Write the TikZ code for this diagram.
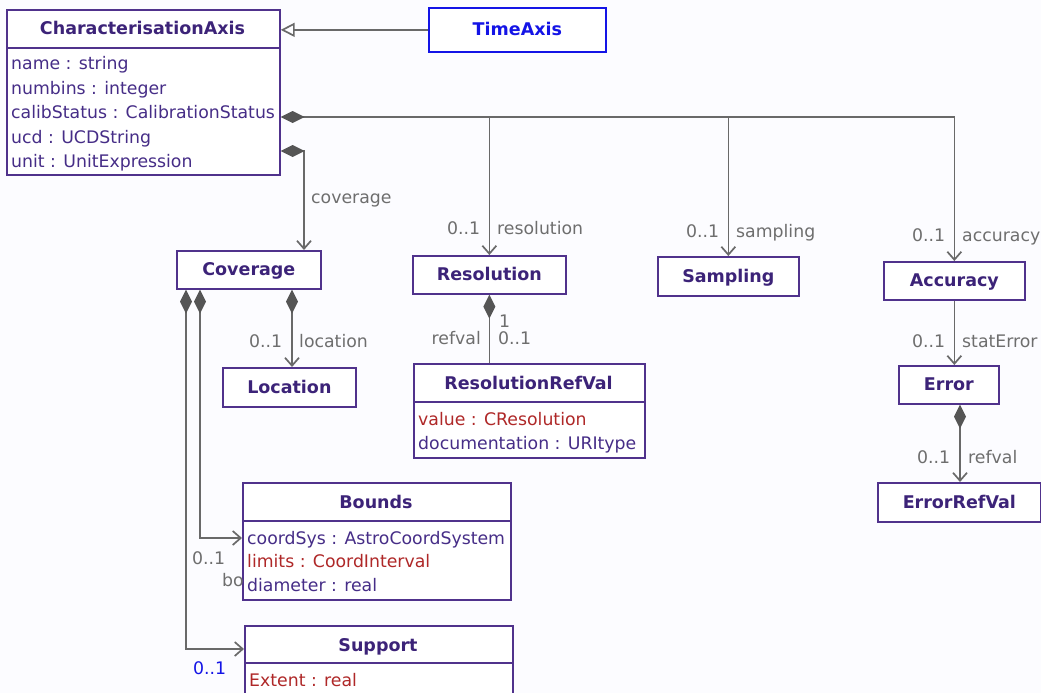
\documentclass[tikz,border=0pt]{standalone}
\usepackage{fontspec}
\setmainfont{DejaVu Sans}
\usetikzlibrary{arrows.meta}
\definecolor{bg}{RGB}{252,252,255}
\definecolor{umlp}{RGB}{80,50,140}
\definecolor{umlt}{RGB}{60,35,120}
\definecolor{attrc}{RGB}{70,45,135}
\definecolor{attrred}{RGB}{175,40,40}
\definecolor{lgray}{RGB}{105,105,105}
\definecolor{dgray}{RGB}{85,85,85}
\definecolor{tgray}{RGB}{110,110,110}
\definecolor{tblue}{RGB}{20,20,230}
\begin{document}
\begin{tikzpicture}[x=1pt,y=-1pt,
  box/.style={draw=umlp, line width=1.7pt, fill=white, inner sep=0pt, anchor=north west},
  bluebox/.style={box, draw=tblue},
  divider/.style={draw=umlp, line width=1.7pt},
  title/.style={font=\fontsize{17.5}{20}\selectfont\bfseries, text=umlt, inner sep=0pt, text height=14pt, text depth=2pt},
  att/.style={font=\fontsize{17.3}{20}\selectfont, text=attrc, inner sep=0pt, anchor=west, text height=14pt, text depth=2pt},
  attred/.style={att, text=attrred},
  lbl/.style={font=\fontsize{17.3}{20}\selectfont, text=tgray, inner sep=0pt, anchor=west, text height=14pt, text depth=2pt},
  conn/.style={draw=lgray, line width=1.7pt},
  barb/.tip={Straight Barb[length=8pt,width=14pt]},
  comp/.tip={Diamond[length=24pt,width=12pt,fill=dgray,color=dgray]},
  gen/.tip={Triangle[open,length=14pt,width=14pt]}
]
\useasboundingbox (0,0) rectangle (1041,693);
\clip (0,0) rectangle (1041,693);
\fill[bg] (0,0) rectangle (1041,693);

% ---- boxes ----
\node[box, minimum width=273pt, minimum height=165pt] (ca) at (6,9) {};
\node[bluebox, minimum width=177pt, minimum height=44pt] (ta) at (428,7) {};
\node[box, minimum width=144pt, minimum height=38pt] (cov) at (176,250) {};
\node[box, minimum width=153pt, minimum height=38pt] (res) at (412,255) {};
\node[box, minimum width=141pt, minimum height=39pt] (samp) at (657,256) {};
\node[box, minimum width=141pt, minimum height=38pt] (acc) at (883,261) {};
\node[box, minimum width=133pt, minimum height=39pt] (loc) at (222,367) {};
\node[box, minimum width=231pt, minimum height=94pt] (resref) at (413,363) {};
\node[box, minimum width=100pt, minimum height=38pt] (err) at (898,365) {};
\node[box, minimum width=163pt, minimum height=39pt] (errref) at (877,482) {};
\node[box, minimum width=268pt, minimum height=117pt] (bounds) at (242,482) {};
\node[box, minimum width=268pt, minimum height=90pt] (sup) at (244,625) {};

% ---- dividers ----
\draw[divider] (ca.west |- 0,48) -- (ca.east |- 0,48);
\draw[divider] (resref.west |- 0,402) -- (resref.east |- 0,402);
\draw[divider] (bounds.west |- 0,521) -- (bounds.east |- 0,521);
\draw[divider] (sup.west |- 0,663) -- (sup.east |- 0,663);

% ---- titles ----
\node[title] (catitle) at (142.5,29) {CharacterisationAxis};
\node[title, text=tblue] (tatitle) at (ta.center) {TimeAxis};
\node[title] (covtitle) at (cov.center) {Coverage};
\node[title] (restitle) at (res.center) {Resolution};
\node[title] (samptitle) at (samp.center) {Sampling};
\node[title] (acctitle) at (acc.center) {Accuracy};
\node[title] (loctitle) at (loc.center) {Location};
\node[title] (errtitle) at (err.center) {Error};
\node[title] (errreftitle) at (errref.center) {ErrorRefVal};
\node[title] (resreftitle) at (528.5,383) {ResolutionRefVal};
\node[title] (boundstitle) at (376,502) {Bounds};
\node[title] (suptitle) at (378,645) {Support};

% ---- attributes ----
\node[att] (ca1) at (11,64) {name : string};
\node[att] (ca2) at (11,88) {numbins : integer};
\node[att] (ca3) at (11,112) {calibStatus : CalibrationStatus};
\node[att] (ca4) at (11,137) {ucd : UCDString};
\node[att] (ca5) at (11,161) {unit : UnitExpression};
\node[attred] (rr1) at (418,419) {value : CResolution};
\node[att] (rr2) at (418,443) {documentation : URItype};
\node[att] (b1) at (247,538) {coordSys : AstroCoordSystem};
\node[attred] (b2) at (247,561) {limits : CoordInterval};
\node[att] (b3) at (247,585) {diameter : real};
\node[attred] (s1) at (249,680) {Extent : real};

% ---- connectors ----
\draw[conn, -gen] (ta.west) -- (ta.west -| ca.east);
\draw[conn, comp-barb] (ca.east |- 0,117) -| (acc.north);
\draw[conn, -barb] (res.north |- 0,117) -- (res.north);
\draw[conn, -barb] (samp.north |- 0,117) -- (samp.north);
\draw[conn, comp-barb] (ca.east |- 0,151) -| (cov.north -| 304,0);
\draw[conn, comp-barb] (cov.south -| 292,0) -- (loc.north -| 292,0);
\draw[conn, comp-] (res.south) -- (res.south |- resref.north);
\draw[conn, -barb] (acc.south) -- (acc.south |- err.north);
\draw[conn, comp-barb] (err.south -| 960,0) -- (errref.north -| 960,0);
\draw[conn, comp-barb] (cov.south -| 200,0) |- (bounds.west |- 0,538);
\draw[conn, comp-barb] (cov.south -| 186,0) |- (sup.west |- 0,649);

% ---- labels ----
\node[lbl] (lcov) at (311,197) {coverage};
\node[lbl] (lres1) at (447,228) {0..1};
\node[lbl] (lres2) at (497,228) {resolution};
\node[lbl] (lsamp1) at (686,231) {0..1};
\node[lbl] (lsamp2) at (736,231) {sampling};
\node[lbl] (lacc1) at (912,235) {0..1};
\node[lbl] (lacc2) at (962,235) {accuracy};
\node[lbl] (lloc1) at (249,341) {0..1};
\node[lbl] (lloc2) at (299,341) {location};
\node[lbl] (lrr1) at (499,321) {1};
\node[lbl] (lrr2) at (498,338) {0..1};
\node[lbl, anchor=east] (lrr3) at (481,338) {refval};
\node[lbl] (lerr1) at (912,341) {0..1};
\node[lbl] (lerr2) at (962,341) {statError};
\node[lbl] (lerf1) at (917,457) {0..1};
\node[lbl] (lerf2) at (968,457) {refval};
\node[lbl] (lb1) at (192,558) {0..1};
\node[lbl] (lb2) at (222,580) {bo};
\node[lbl, text=tblue] (ls1) at (193,668) {0..1};
\end{tikzpicture}
\end{document}
